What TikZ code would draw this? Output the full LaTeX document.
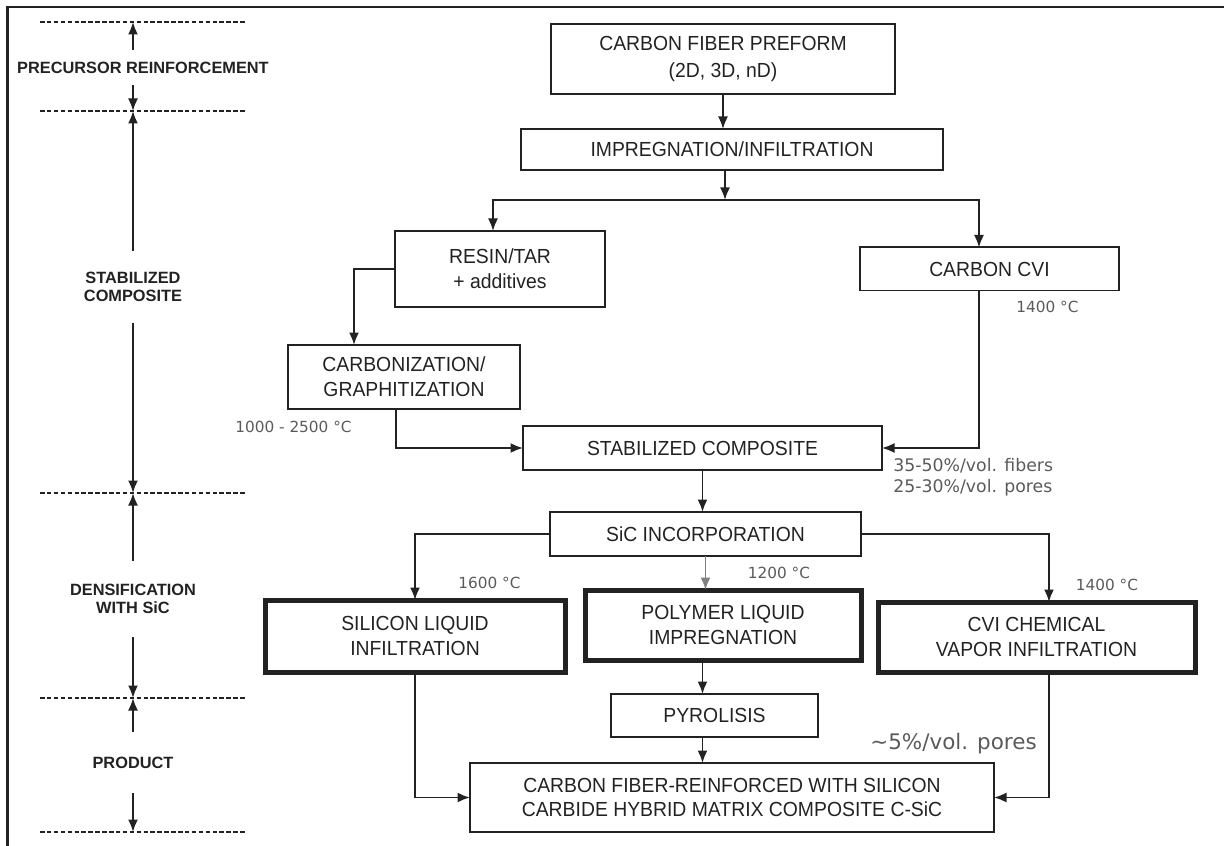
\documentclass[tikz,border=0pt]{standalone}
\usepackage{fontspec}
\setmainfont{Liberation Sans}[FakeStretch=0.95]
\newfontfamily\stagefont{Liberation Sans}
\newfontfamily\notefont{DejaVu Sans}
\usetikzlibrary{shapes,arrows,arrows.meta}
\definecolor{ink}{HTML}{222222}
\definecolor{notegray}{HTML}{5A5A5A}
\tikzstyle{block} = [draw=ink, rectangle, text=ink, align=center, line width=0.04cm, inner sep=0pt, outer sep=0pt, font=\fontsize{11.6}{14}\selectfont]
\tikzstyle{bigblock} = [block, line width=0.1cm]
\tikzstyle{line} = [draw=ink, line width=0.038cm, -{Latex[length=0.25cm,width=0.2cm]}]
\tikzstyle{stage} = [text=ink, align=center, inner sep=0pt, outer sep=0pt, font=\stagefont\bfseries\fontsize{9.3}{10.3}\selectfont]
\tikzstyle{note} = [text=notegray, align=left, inner sep=0pt, font=\notefont\fontsize{8.7}{12}\selectfont]
\tikzstyle{level} = [draw=ink, line width=0.035cm, dash pattern=on 0.09cm off 0.048cm]

\begin{document}
\begin{tikzpicture}[node distance=2cm, auto]
    \useasboundingbox (0,0) rectangle (24.48,-16.92);
    \draw [ink, line width=0.05cm] (0.15,-16.92) |- (24.48,-0.14);

    \node [block, minimum width=6.88cm, minimum height=1.4cm, font=\fontsize{11.6}{15.4}\selectfont] (preform) at (14.46,-1.18) {CARBON FIBER PREFORM\\(2D, 3D, nD)};
    \node [block, below of=preform, node distance=1.81cm, xshift=0.18cm, minimum width=8.44cm, minimum height=0.82cm] (impreg) {IMPREGNATION/INFILTRATION};
    \node [block, below of=impreg, node distance=2.39cm, xshift=-4.64cm, minimum width=4.2cm, minimum height=1.52cm] (resin) {RESIN/TAR\\+ additives};
    \node [block, right of=resin, node distance=9.79cm, minimum width=5.18cm, minimum height=0.86cm] (cvi) {CARBON CVI};
    \node [block, below of=resin, node distance=2.16cm, xshift=-1.92cm, minimum width=4.64cm, minimum height=1.28cm] (carb) {CARBONIZATION/\\GRAPHITIZATION};
    \node [block, below of=impreg, node distance=5.97cm, xshift=-0.59cm, minimum width=7.18cm, minimum height=0.88cm] (stab) {STABILIZED COMPOSITE};
    \node [block, below of=stab, node distance=1.72cm, xshift=0.06cm, minimum width=6.22cm, minimum height=0.88cm] (sic) {SiC INCORPORATION};
    \node [bigblock, below of=sic, node distance=1.82cm, xshift=0.35cm, minimum width=5.52cm, minimum height=1.4cm] (polymer) {POLYMER LIQUID\\IMPREGNATION};
    \node [bigblock, left of=polymer, node distance=6.16cm, yshift=-0.22cm, minimum width=6cm, minimum height=1.44cm] (silicon) {SILICON LIQUID\\INFILTRATION};
    \node [bigblock, right of=polymer, node distance=6.27cm, yshift=-0.24cm, minimum width=6.34cm, minimum height=1.4cm] (cvichem) {CVI CHEMICAL\\VAPOR INFILTRATION};
    \node [block, below of=polymer, node distance=1.81cm, xshift=-0.17cm, minimum width=4.14cm, minimum height=0.86cm] (pyro) {PYROLISIS};
    \node [block, below of=pyro, node distance=1.64cm, xshift=0.35cm, minimum width=10.48cm, minimum height=1.38cm] (final) {CARBON FIBER-REINFORCED WITH SILICON\\CARBIDE HYBRID MATRIX COMPOSITE C-SiC};

    \node [note] (tcvi) at (20.95,-6.14) {1400 °C};
    \node [note] (tcarb) at (5.87,-8.54) {1000 - 2500 °C};
    \node [note, anchor=west, font=\notefont\fontsize{9.85}{12}\selectfont] (tstab) at (17.86,-9.55) {35-50\%/vol. fibers\\25-30\%/vol. pores};
    \node [note] (tsil) at (9.79,-11.66) {1600 °C};
    \node [note] (tpol) at (15.58,-11.46) {1200 °C};
    \node [note] (tchem) at (22.14,-11.70) {1400 °C};
    \node [note, font=\notefont\fontsize{12.2}{14}\selectfont] (tpores) at (19.07,-14.88) {\textasciitilde5\%/vol. pores};

    \coordinate (split) at (14.5,-4.0);
    \path [line] (preform.south) -- (preform.south |- impreg.north);
    \path [line] (impreg.south -| split) -- (split);
    \path [line] (split) -| ([xshift=-0.14cm]resin.north);
    \path [line] (split) -| ([xshift=-0.21cm]cvi.north);
    \path [line] (resin.west) -| ([xshift=-1cm]carb.north);
    \path [line] ([xshift=-0.16cm]carb.south) |- (stab.west);
    \path [line] ([xshift=-0.21cm]cvi.south) |- (stab.east);
    \path [line] (stab.south) -- (stab.south |- sic.north);
    \path [line] (sic.west) -| (silicon.north);
    \path [line, draw=gray] (sic.south) -- (sic.south |- polymer.north);
    \path [line] (sic.east) -| ([xshift=0.25cm]cvichem.north);
    \path [line] (polymer.south -| stab.south) -- (pyro.north -| stab.south);
    \path [line] (pyro.south -| stab.south) -- (final.north -| stab.south);
    \path [line] (silicon.south) |- (final.west);
    \path [line] ([xshift=0.25cm]cvichem.south) |- (final.east);

    \foreach \y/\n in {-0.44/1, -2.22/2, -9.86/3, -13.96/4, -16.64/5} {
        \coordinate (lvl\n) at (2.66,\y);
        \path [level] (0.8,\y) -- (4.92,\y);
    }
    \node [stage, minimum height=0.7cm] (prec) at (2.86,-1.35) {PRECURSOR REINFORCEMENT};
    \node [stage, minimum height=1.44cm] (stabl) at (2.66,-5.74) {STABILIZED\\COMPOSITE};
    \node [stage, minimum height=1.52cm] (dens) at (2.66,-11.98) {DENSIFICATION\\WITH SiC};
    \node [stage, minimum height=1.22cm] (prod) at (2.66,-15.25) {PRODUCT};

    \path [line] (prec.north -| lvl1) -- (lvl1);
    \path [line] (prec.south -| lvl2) -- (lvl2);
    \path [line] (stabl.north) -- (lvl2);
    \path [line] (stabl.south) -- (lvl3);
    \path [line] (dens.north) -- (lvl3);
    \path [line] (dens.south) -- (lvl4);
    \path [line] (prod.north) -- (lvl4);
    \path [line] (prod.south) -- (lvl5);
\end{tikzpicture}
\end{document}
